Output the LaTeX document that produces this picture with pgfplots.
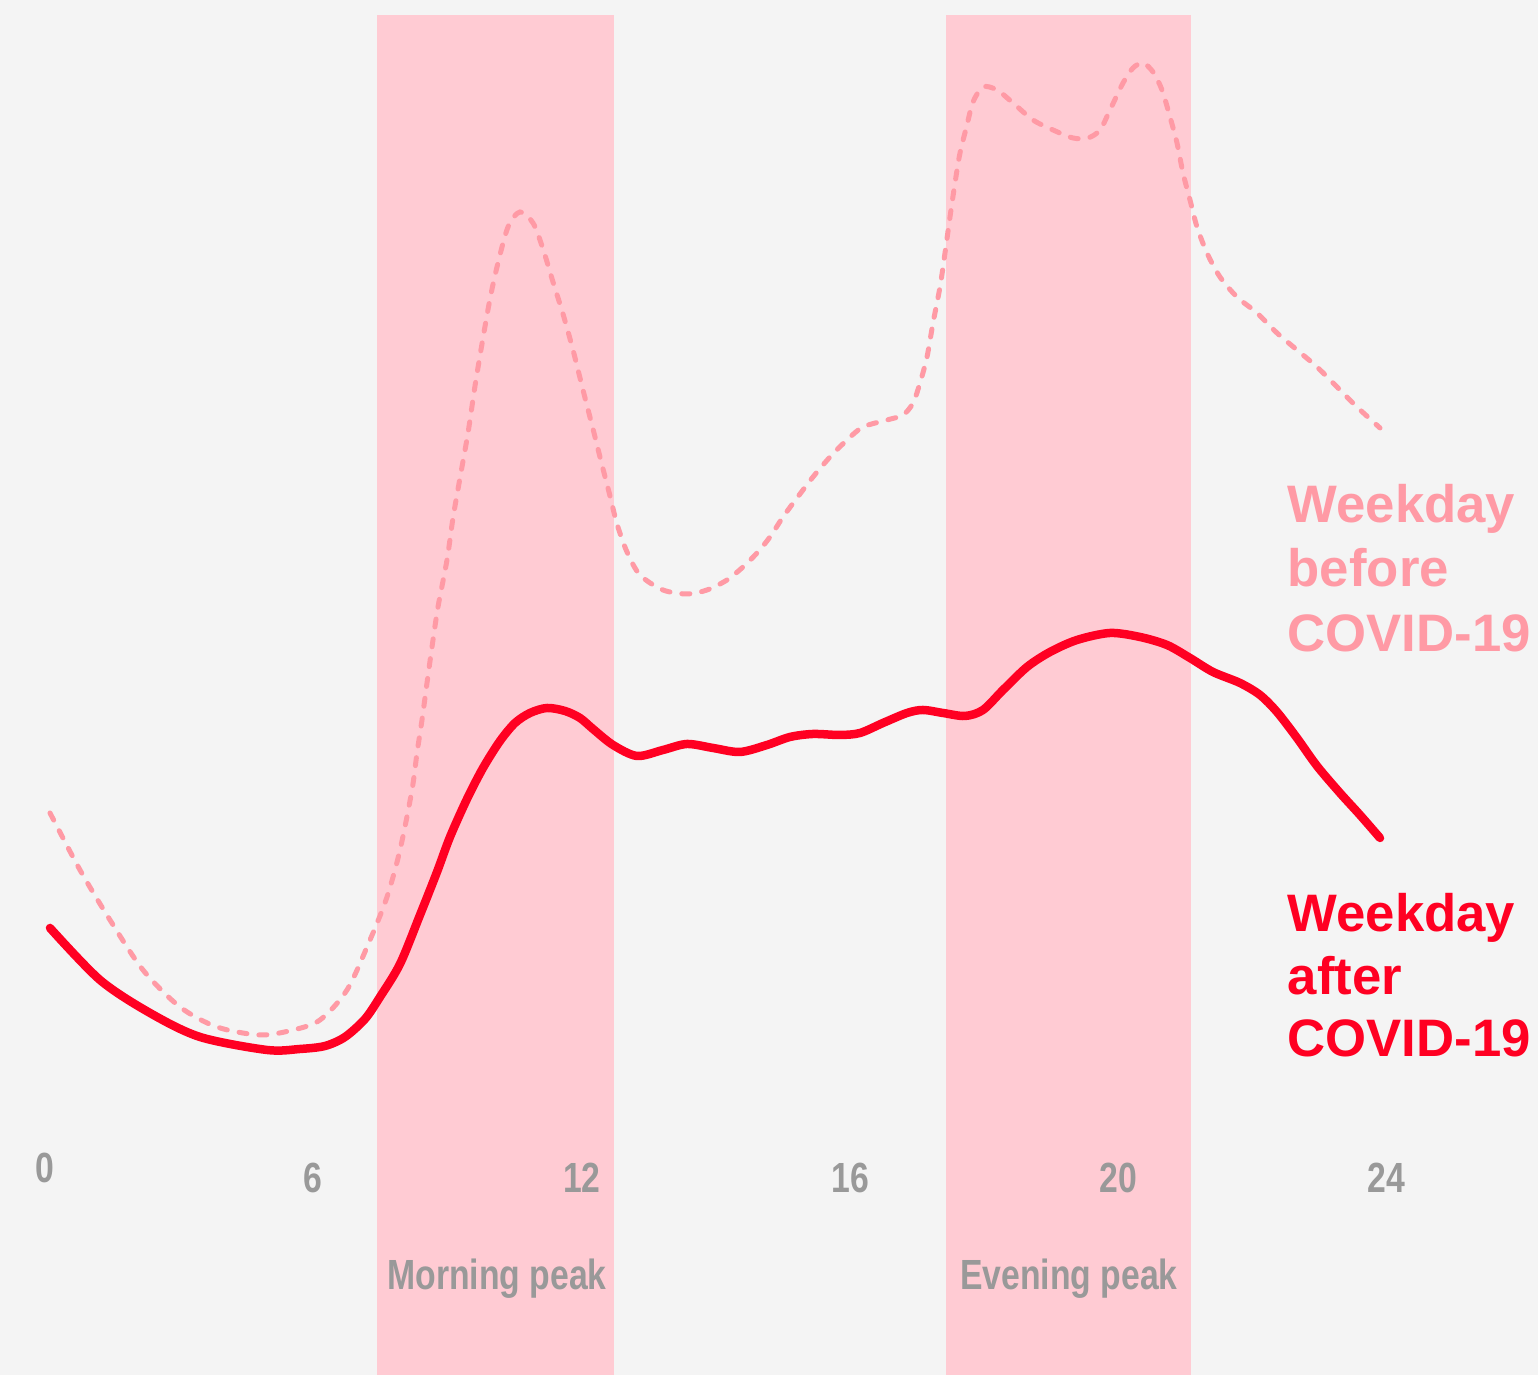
\documentclass[border=0pt]{standalone}
\usepackage{pgfplots}
\pgfplotsset{compat=1.18}
\usepackage{pgfplotstable}
\usepackage{fontspec}
\setmainfont{Liberation Sans}
\newfontfamily\condfont[FakeStretch=0.8]{Liberation Sans}
\definecolor{bgcol}{HTML}{F4F4F4}
\definecolor{bandcol}{HTML}{FFCBD3}
\definecolor{beforecol}{HTML}{FF9AA5}
\definecolor{aftercol}{HTML}{FF0022}
\definecolor{labgray}{HTML}{999999}

% x: position along the time axis, y: traffic level (arbitrary units)
\pgfplotstableread{
x y
50 447
100 395
150 362
200 338
267 325
300 326
325 329
345 338
365 356
380 378
400 411
420 460
437 503
450 538
467 576
483 607
500 634
515 652
530 662
547 667
565 664
580 657
593 646
613 630
637 619
663 625
687 631
713 627
740 623
767 630
790 638
813 641
840 640
860 642
883 652
907 662
923 665
943 662
965 659
983 665
1003 685
1027 708
1050 723
1077 735
1110 742
1140 738
1167 730
1190 717
1213 703
1240 692
1260 680
1277 663
1297 637
1317 609
1340 582
1360 560
1380 537
}\after

\pgfplotstableread{
x y
50 562
80 505
110 455
143 405
180 368
217 348
260 340
293 345
320 355
347 385
370 435
387 478
400 525
412 585
417 622
422 655
427 692
432 728
438 768
447 815
453 857
460 897
468 942
475 989
483 1037
490 1076
497 1108
508 1148
520 1163
533 1152
543 1126
553 1093
563 1061
573 1025
583 985
593 946
602 910
610 879
617 851
627 823
640 800
663 785
687 781
707 785
727 795
743 808
757 822
770 838
783 858
797 877
813 898
830 918
847 935
863 948
887 955
903 960
913 972
920 992
927 1018
933 1052
940 1088
945 1122
950 1158
955 1192
960 1222
967 1250
973 1273
983 1288
997 1285
1013 1272
1033 1255
1053 1245
1073 1237
1088 1237
1100 1245
1110 1265
1123 1292
1133 1307
1143 1312
1153 1303
1162 1285
1170 1258
1177 1232
1183 1202
1190 1175
1197 1148
1207 1122
1220 1098
1237 1078
1257 1062
1277 1042
1297 1025
1317 1008
1337 988
1357 968
1380 947
}\before

\begin{document}
\begin{tikzpicture}
\begin{axis}[
  scale only axis,
  width=15.38cm, height=13.75cm,
  xmin=0, xmax=1538, ymin=0, ymax=1375,
  axis on top,
  axis line style={draw=none},
  tick style={draw=none},
  ytick=\empty,
  xtick={313,582,850,1118,1386},
  xticklabels={6,12,16,20,24},
  extra x ticks={45},
  extra x tick labels={0},
  extra x tick style={xticklabel style={yshift=1mm}},
  xticklabel style={anchor=center, yshift=19.7mm, text=labgray,
    font=\condfont\bfseries\fontsize{12}{14}\selectfont},
  axis background/.style={fill=bgcol},
  clip=false,
]
% peak bands
\addplot[fill=bandcol, draw=none] coordinates {(377,0) (377,1360) (614,1360) (614,0)} -- cycle;
\addplot[fill=bandcol, draw=none] coordinates {(946,0) (946,1360) (1191,1360) (1191,0)} -- cycle;

% before COVID-19 (dashed)
\addplot[beforecol, line width=0.5mm, smooth, line cap=round,
  dash pattern=on 0.8mm off 1.2mm] table[x=x, y=y] {\before};
% after COVID-19 (solid)
\addplot[aftercol, line width=0.85mm, smooth, line cap=round, line join=round] table[x=x, y=y] {\after};

% band labels
\node[anchor=base, text=labgray, font=\condfont\bfseries\fontsize{12}{14}\selectfont]
  at (axis cs:497,85) {Morning peak};
\node[anchor=base, text=labgray, font=\condfont\bfseries\fontsize{12}{14}\selectfont]
  at (axis cs:1069,85) {Evening peak};

% series labels
\begin{scope}[every node/.style={anchor=base west, inner sep=0pt, font=\bfseries\fontsize{15}{18}\selectfont}]
\node[text=beforecol] at (axis cs:1287,852) {Weekday};
\node[text=beforecol] at (axis cs:1287,788) {before};
\node[text=beforecol] at (axis cs:1287,723) {COVID-19};
\node[text=aftercol] at (axis cs:1287,443) {Weekday};
\node[text=aftercol] at (axis cs:1287,380) {after};
\node[text=aftercol] at (axis cs:1287,318) {COVID-19};
\end{scope}
\end{axis}
\end{tikzpicture}
\end{document}
